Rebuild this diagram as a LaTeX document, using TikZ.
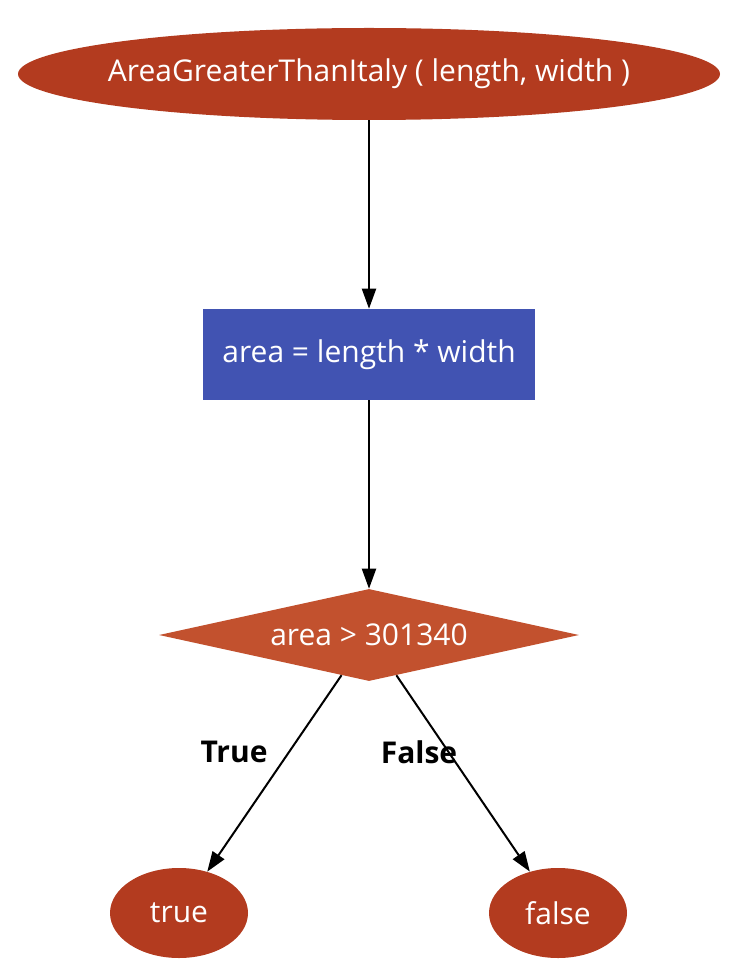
\documentclass[tikz,border=0pt]{standalone}
\usepackage{fontspec}
\setmainfont{Open Sans}
\usetikzlibrary{shapes.geometric, arrows.meta}
\definecolor{ovalred}{RGB}{179,59,31}
\definecolor{boxblue}{RGB}{65,83,178}
\definecolor{diamondred}{RGB}{194,81,46}
\begin{document}
\begin{tikzpicture}[x=0.75pt, y=-0.75pt, line join = round,
    oval/.style={ellipse, fill=ovalred, text=white, inner sep=0pt},
    stepbox/.style={rectangle, fill=boxblue, text=white, inner sep=0pt,
        minimum width=249pt, minimum height=68.25pt},
    test/.style={diamond, aspect=4.5, fill=diamondred, text=white, inner sep=0pt,
        minimum width=315pt, minimum height=69pt},
    flow/.style={-{Triangle[length=15pt, width=10.5pt]}, line width=1.5pt},
    branch/.style={font=\bfseries}]
\useasboundingbox (0,0) rectangle (746,980);
\fontsize{22.5}{27}\selectfont

\node [oval, minimum width=526.5pt, minimum height=69pt] (func) at (369,74)
    {\makebox[0pt]{AreaGreaterThanItaly ( length, width )}};
\node [stepbox] (area) at (369,354.5) {area = length * width};
\node [test] (check) at (369,635) {area > 301340};
\node [oval, minimum width=103.5pt, minimum height=67.5pt] (yes) at (179,913) {true};
\node [oval, minimum width=103.5pt, minimum height=67.5pt] (no) at (558,913) {false};

\node [branch] (lbltrue)  at (234,752) {True};
\node [branch] (lblfalse) at (419,752) {False};

\draw[flow] (func) -- (area);
\draw[flow] (area) -- (check);
\draw[flow] (check) -- (yes);
\draw[flow] (check) -- (no);

\end{tikzpicture}
\end{document}
